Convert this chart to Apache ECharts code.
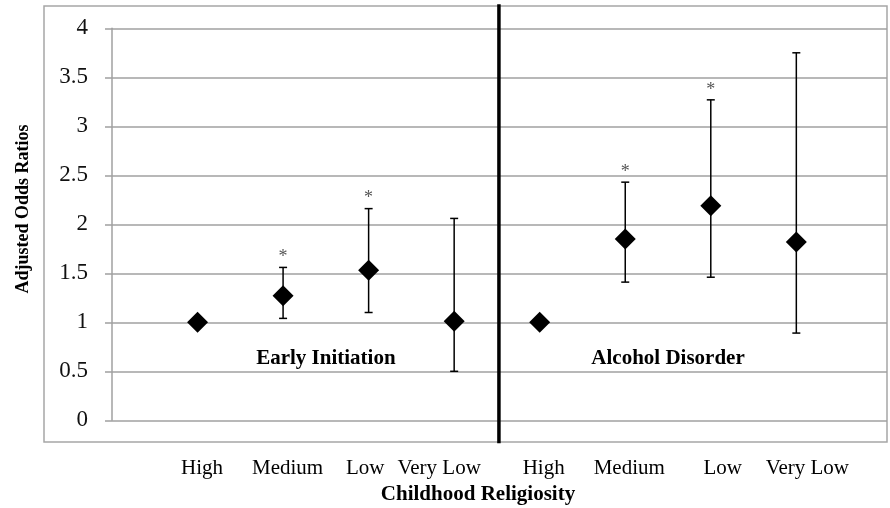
<!DOCTYPE html>
<html>
<head>
<meta charset="utf-8">
<script src="https://cdn.jsdelivr.net/npm/echarts@6/dist/echarts.min.js"></script>
<style>
html,body{margin:0;padding:0;background:#fff;}
#main{width:890px;height:508px;}
</style>
</head>
<body>
<div id="main"></div>
<script>
// ---- data ----
const categories = ['High', 'Medium', 'Low', 'Very Low', 'High', 'Medium', 'Low', 'Very Low'];
const groupNames = ['Early Initiation', 'Alcohol Disorder'];
const oddsRatio = [1.00, 1.27, 1.53, 1.01, 1.00, 1.85, 2.19, 1.82];
const ciLower  = [null, 1.04, 1.10, 0.50, null, 1.41, 1.46, 0.89];
const ciUpper  = [null, 1.56, 2.16, 2.06, null, 2.43, 3.27, 3.75];
const significant = [false, true, true, false, false, true, true, false];
const yTicks = [0, 0.5, 1, 1.5, 2, 2.5, 3, 3.5, 4];
const groupLabelY = 0.63;

// ---- layout (horizontal nudges of the category labels, px) ----
const labelNudge = [4.5, 4.5, -3.5, -15, 4, 4, 12, 11];

const FONT = '"Liberation Serif", "Times New Roman", serif';
const chart = echarts.init(document.getElementById('main'));

const pointData = oddsRatio.map((v, i) => [i + 1, v]);
const errData = [];
oddsRatio.forEach((v, i) => {
  if (ciLower[i] != null) errData.push([i + 1, ciLower[i], ciUpper[i], significant[i] ? 1 : 0]);
});
const perGroup = categories.length / groupNames.length;
const groupLabelData = groupNames.map((g, k) => ({
  value: [k * perGroup + (perGroup + 1) / 2, groupLabelY],
  name: g
}));
const separatorData = [[perGroup + 0.5]];

const rich = {};
labelNudge.forEach((d, i) => {
  rich['c' + i] = {
    fontFamily: FONT, fontSize: 21, color: '#000',
    padding: d >= 0 ? [0, 0, 0, 2 * d] : [0, -2 * d, 0, 0]
  };
});

chart.setOption({
  animation: false,
  backgroundColor: '#fff',
  grid: { left: 112, right: 3, top: 28.3, bottom: 87.7, containLabel: false },
  xAxis: {
    type: 'value', min: 0, max: 9.06, interval: 1,
    splitLine: { show: false },
    axisLine: { show: false },
    axisTick: { show: false },
    axisLabel: {
      margin: 38,
      fontFamily: FONT, fontSize: 21, color: '#000',
      showMaxLabel: false,
      rich: rich,
      formatter: v => (Number.isInteger(v) && v >= 1 && v <= categories.length)
        ? '{c' + (v - 1) + '|' + categories[v - 1] + '}' : ''
    }
  },
  yAxis: {
    type: 'value', min: yTicks[0], max: yTicks[yTicks.length - 1], interval: 0.5,
    axisLine: { show: true, lineStyle: { color: '#a0a0a0', width: 1.5 } },
    axisTick: { show: true, length: 7, lineStyle: { color: '#a0a0a0', width: 1.5 } },
    splitLine: { show: true, lineStyle: { color: '#a0a0a0', width: 1.5 } },
    axisLabel: { margin: 24, fontFamily: FONT, fontSize: 23, color: '#111' }
  },
  graphic: [
    { type: 'rect', shape: { x: 44, y: 6, width: 843, height: 436 },
      style: { fill: 'none', stroke: '#a6a6a6', lineWidth: 1.5 }, z: -1 },
    { type: 'text', x: 23, y: 209, rotation: Math.PI / 2,
      style: { text: 'Adjusted Odds Ratios', font: 'bold 18px ' + FONT, fill: '#000',
               textAlign: 'center', textVerticalAlign: 'middle' } },
    { type: 'text', x: 478, y: 495,
      style: { text: 'Childhood Religiosity', font: 'bold 21px ' + FONT, fill: '#000',
               textAlign: 'center', textVerticalAlign: 'middle' } }
  ],
  series: [
    {
      type: 'custom',
      clip: false,
      data: separatorData,
      z: 5,
      renderItem: (params, api) => {
        const p = api.coord([api.value(0), 0]);
        const cs = params.coordSys;
        return {
          type: 'line',
          shape: { x1: p[0] + 2, y1: cs.y - 24, x2: p[0] + 2, y2: cs.y + cs.height + 23 },
          style: { stroke: '#000', lineWidth: 3.5 }
        };
      }
    },
    {
      type: 'custom',
      data: errData,
      z: 6,
      renderItem: (params, api) => {
        const x = api.value(0);
        const lo = api.coord([x, api.value(1)]);
        const hi = api.coord([x, api.value(2)]);
        const cap = 4;
        const st = { stroke: '#000', lineWidth: 1.5 };
        const children = [
          { type: 'line', shape: { x1: lo[0], y1: lo[1], x2: hi[0], y2: hi[1] }, style: st },
          { type: 'line', shape: { x1: lo[0] - cap, y1: lo[1], x2: lo[0] + cap, y2: lo[1] }, style: st },
          { type: 'line', shape: { x1: hi[0] - cap, y1: hi[1], x2: hi[0] + cap, y2: hi[1] }, style: st }
        ];
        if (api.value(3) === 1) {
          children.push({ type: 'text', x: hi[0], y: hi[1] - 1,
            style: { text: '*', font: '18px ' + FONT, fill: '#555',
                     textAlign: 'center', textVerticalAlign: 'bottom' } });
        }
        return { type: 'group', children };
      }
    },
    {
      type: 'scatter',
      data: pointData,
      symbol: 'diamond',
      symbolSize: [21, 21],
      itemStyle: { color: '#000', opacity: 1 },
      z: 10
    },
    {
      type: 'scatter',
      data: groupLabelData,
      symbolSize: 1,
      itemStyle: { color: 'rgba(0,0,0,0)', opacity: 1 },
      label: {
        show: true, position: 'inside', formatter: p => p.name,
        fontFamily: FONT, fontSize: 21, fontWeight: 'bold', color: '#000'
      },
      z: 8
    }
  ]
});
</script>
</body>
</html>
